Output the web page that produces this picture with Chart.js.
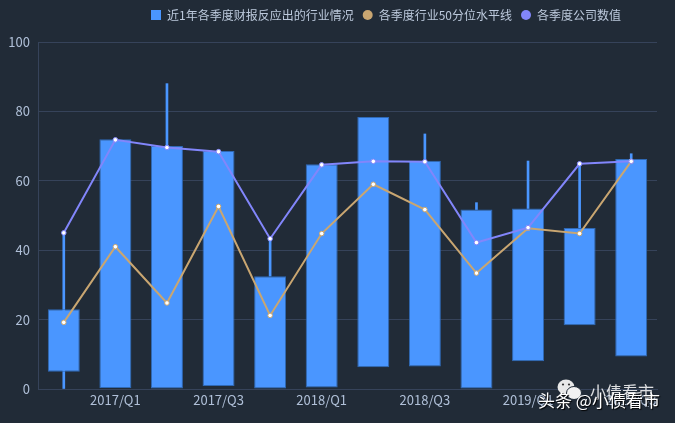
<!DOCTYPE html>
<html><head><meta charset="utf-8">
<style>
html,body{margin:0;padding:0;background:#212b37;width:675px;height:423px;overflow:hidden}
#w{position:relative;width:675px;height:423px}
canvas{display:block}
.wm{position:absolute;font-family:"Noto Sans CJK SC";white-space:nowrap;color:#fff}
</style>
<script src="https://cdn.jsdelivr.net/npm/chart.js@4"></script>
</head><body>
<div id="w"><canvas id="c" width="675" height="423"></canvas>
<svg class="wm" style="left:556px;top:378px" width="30" height="24" viewBox="0 0 30 24"><ellipse cx="10" cy="9" rx="8.500" ry="7.500" fill="#e8e8e8"/><ellipse cx="18" cy="15" rx="7.500" ry="6.500" fill="#f2f2f2" stroke="#212b37"/><circle cx="7" cy="6.500" r="1.100" fill="#333"/><circle cx="13" cy="6.500" r="1.100" fill="#333"/></svg>
<div class="wm" style="left:590px;top:380px;font-size:16px;line-height:22px;opacity:.85">小债看市</div>
<div class="wm" style="left:538px;top:389px;font-size:17px;line-height:22px;text-shadow:1px 1px 1px #000">头条 @小债看市</div>
</div>
<script>
const categories=['2016/Q4','2017/Q1','2017/Q2','2017/Q3','2017/Q4','2018/Q1','2018/Q2','2018/Q3','2018/Q4','2019/Q1','2019/Q2','2019/Q3'];
const boxLow=[5,0.3,0,0.9,0,0.4,6.3,6.5,0,8,18.4,9.4];
const boxHigh=[23,72,70,68.6,32.5,64.8,78.4,65.8,51.7,52,46.4,66.3];
const whiskerLow=[0,null,70,null,32.5,null,null,65.8,51.7,52,46.4,66.3];
const whiskerHigh=[45,null,88,null,43.3,null,null,73.5,53.7,65.7,65,67.8];
const industryMedian=[19.2,41,24.8,52.6,21.2,44.8,59,51.7,33.4,46.3,44.8,65.6];
const companyValue=[45,71.8,69.6,68.4,43.3,64.6,65.6,65.5,42.2,46.5,64.9,65.6];
const seriesNames=['近1年各季度财报反应出的行业情况','各季度行业50分位水平线','各季度公司数值'];
const yTicks=[0,20,40,60,80,100];
const font='"Noto Sans CJK SC"';
const pair=(a,b)=>a.map((v,i)=>v===null?null:[v,b[i]]);
const barColor='#4a96ff';
const rectMark=document.createElement('canvas');
rectMark.width=10;rectMark.height=10;
const rc=rectMark.getContext('2d');rc.fillStyle=barColor;rc.fillRect(0,0,10,10);
Chart.defaults.font.family=font;
new Chart(document.getElementById('c'),{
 type:'bar',
 data:{labels:categories,datasets:[
  {label:seriesNames[0],data:pair(boxLow,boxHigh),backgroundColor:barColor,borderColor:'#2f69b5',borderWidth:1,borderSkipped:false,barPercentage:.62,categoryPercentage:1,grouped:false,order:3},
  {label:seriesNames[1],type:'line',data:industryMedian,borderColor:'#c9a671',borderWidth:2,backgroundColor:'#c9a671',pointBackgroundColor:'#fff',pointBorderColor:'#c9a671',pointBorderWidth:1,pointRadius:2.3,tension:0,order:1,pointStyle:'circle'},
  {label:seriesNames[2],type:'line',data:companyValue,borderColor:'#8286fb',borderWidth:2,backgroundColor:'#8286fb',pointBackgroundColor:'#fff',pointBorderColor:'#8286fb',pointBorderWidth:1,pointRadius:2.3,tension:0,order:0,pointStyle:'circle'},
  {label:'whisker',data:pair(whiskerLow,whiskerHigh),backgroundColor:barColor,borderWidth:0,barThickness:2,grouped:false,order:4}
 ]},
 plugins:[{id:'legendTune',
   beforeLayout(ch){const l=ch.legend;if(!l._tuned){const f=l.fit;l.fit=function(){f.call(this);this.height=42};l._tuned=true}},
   afterLayout(ch){ch.legend.right-=27}}],
 options:{
  responsive:false,animation:false,
  layout:{padding:{left:0,right:18,top:0,bottom:0}},
  plugins:{
   tooltip:{enabled:false},
   legend:{position:'top',align:'end',
    labels:{
     filter:i=>i.text!=='whisker',
     sort:(a,b)=>a.datasetIndex-b.datasetIndex,
     generateLabels(ch){return Chart.defaults.plugins.legend.labels.generateLabels(ch).map(l=>{const d=ch.data.datasets[l.datasetIndex];return Object.assign(l,{fillStyle:d.backgroundColor,strokeStyle:d.backgroundColor,lineWidth:0,pointStyle:l.datasetIndex===0?rectMark:'circle'})})},
     usePointStyle:true,boxHeight:7,pointStyleWidth:10,color:'#bcc9dc',font:{size:12},padding:9}}
  },
  scales:{
   x:{offset:true,grid:{display:false,drawTicks:false},border:{color:'#36435a'},
      afterFit(s){s.height=34},
      ticks:{autoSkip:false,maxRotation:0,color:'#b0c0d8',font:{size:13},padding:3,callback(v,i){return i%2===1?this.getLabelForValue(v):''}}},
   y:{min:0,max:100,border:{color:'#36435a'},grid:{color:'#36435a',drawTicks:false},
      afterFit(s){s.width=38},
      afterBuildTicks(s){s.ticks=yTicks.map(v=>({value:v}))},
      ticks:{color:'#b0c0d8',font:{size:13},padding:8}}
  }
 }
});
</script>
</body></html>
